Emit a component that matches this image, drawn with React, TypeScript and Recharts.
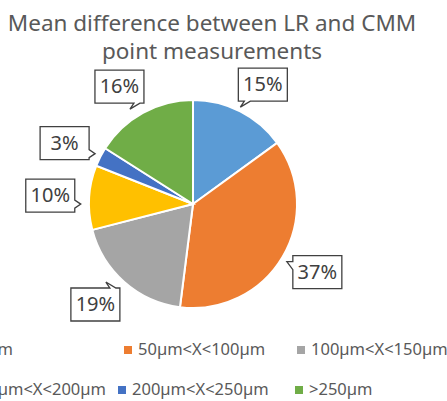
import React from 'react';
import { PieChart, Pie, Cell } from 'recharts';

const RANGES = ['0µm<X<50µm', '50µm<X<100µm', '100µm<X<150µm', '150µm<X<200µm', '200µm<X<250µm', '>250µm'];
const SHARES = [15, 37, 19, 10, 3, 16];
const COLORS = ['#5b9bd5', '#ed7d31', '#a5a5a5', '#ffc000', '#4472c4', '#70ad47'];

const data = RANGES.map((name, i) => ({ name, value: SHARES[i] }));

const FONT = '"Noto Sans", "Open Sans", sans-serif';
const RAD = Math.PI / 180;

// Excel style callout: white box with a small pointer toward the slice
function Callout(props: any) {
    const { cx, cy, midAngle, outerRadius, value } = props;
    const cos = Math.cos(-midAngle * RAD);
    const sin = Math.sin(-midAngle * RAD);
    const r = outerRadius + 30;
    const x = cx + r * cos + Math.sign(cos) * 9;
    const y = cy + r * sin;
    const w = 49, h = 33;
    const l = x - w / 2, t = y - h / 2, rr = x + w / 2, b = y + h / 2;
    // pointer goes on the side that faces the pie centre
    const dx = cx - x, dy = cy - y;
    let d: string;
    const p = 6;
    if (Math.abs(dy) / h > Math.abs(dx) / w) {
        const px = Math.max(l + 4, Math.min(rr - 12, x + dx * 0.3));
        if (dy > 0) {
            d = `M${l},${t}H${rr}V${b}H${px + 8}L${px - 2},${b + p}L${px + 2},${b}H${l}Z`;
        } else {
            d = `M${l},${t}H${px + 2}L${px - 2},${t - p}L${px + 8},${t}H${rr}V${b}H${l}Z`;
        }
    } else {
        const py = Math.max(t + 4, Math.min(b - 12, y + dy * 0.3));
        if (dx > 0) {
            d = `M${l},${t}H${rr}V${py + 2}L${rr + p},${py + 6}L${rr},${py + 10}V${b}H${l}Z`;
        } else {
            d = `M${l},${t}H${rr}V${b}H${l}V${py + 10}L${l - p},${py + 2}L${l},${py + 2}Z`;
        }
    }
    return (
        <g>
            <path d={d} fill="#fff" stroke="#404040" strokeWidth={1.3} />
            <text x={x} y={y + 1} textAnchor="middle" dominantBaseline="middle" fontSize={20} fill="#404040" fontFamily={FONT}>
                {value}%
            </text>
        </g>
    );
}

// first column sits mostly off the left edge, as in the cropped original
const FIRST_END = [13, 106];
const ROW_X = [[0, 124, 297], [0, 118, 295]];
const ROW_Y = [351, 391];

export default function App() {
    return (
        <div style={{ position: 'absolute', left: 0, top: 0, width: 447, height: 401, background: '#fff', overflow: 'hidden' }}>
            <PieChart width={447} height={401} margin={{ top: 0, right: 0, bottom: 0, left: 0 }}>
                <text x={212} y={31} textAnchor="middle" fontSize={22.5} fill="#595959" fontFamily={FONT}>
                    Mean difference between LR and CMM
                </text>
                <text x={212} y={59} textAnchor="middle" fontSize={22.5} fill="#595959" fontFamily={FONT}>
                    point measurements
                </text>
                <Pie
                    data={data}
                    dataKey="value"
                    nameKey="name"
                    cx={193}
                    cy={204}
                    outerRadius={104}
                    startAngle={90}
                    endAngle={-270}
                    stroke="#fff"
                    strokeWidth={2}
                    label={Callout}
                    labelLine={false}
                    isAnimationActive={false}
                >
                    {data.map((_, i) => (
                        <Cell key={i} fill={COLORS[i]} />
                    ))}
                </Pie>
                {RANGES.map((name, i) => {
                    const row = Math.floor(i / 3), col = i % 3;
                    const y = ROW_Y[row];
                    if (col === 0) {
                        return (
                            <text key={name} x={FIRST_END[row]} y={y} textAnchor="end" dominantBaseline="middle" fontSize={16.5} fill="#595959" fontFamily={FONT}>
                                {name}
                            </text>
                        );
                    }
                    const x = ROW_X[row][col];
                    return (
                        <g key={name}>
                            <rect x={x} y={y - 5} width={8} height={8} fill={COLORS[i]} />
                            <text x={x + 14} y={y} dominantBaseline="middle" fontSize={16.5} fill="#595959" fontFamily={FONT}>
                                {name}
                            </text>
                        </g>
                    );
                })}
            </PieChart>
        </div>
    );
}
